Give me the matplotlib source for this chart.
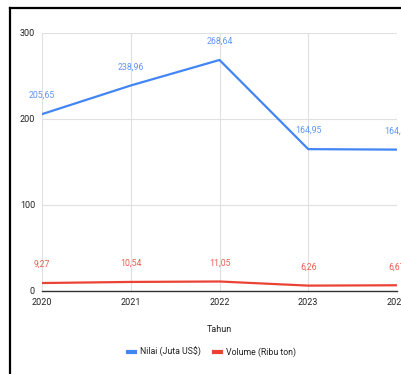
import matplotlib.pyplot as plt
from matplotlib.lines import Line2D

plt.rcParams['font.family'] = ['Roboto', 'DejaVu Sans']

# data
tahun = [2020, 2021, 2022, 2023, 2024]
nilai = [205.65, 238.96, 268.64, 164.95, 164.41]
volume = [9.27, 10.54, 11.05, 6.26, 6.67]
y_ticks = [0, 100, 200, 300]

blue = '#4285F4'
red = '#EA4335'

fig = plt.figure(figsize=(4.02, 3.74), dpi=100)
# plot area runs to the right edge of the (cropped) screenshot
ax = fig.add_axes([42 / 402, 1 - 291 / 374, 355 / 402, 258 / 374])

ax.plot(tahun, nilai, color=blue, lw=1.6, label='Nilai (Juta US$)', zorder=3)
ax.plot(tahun, volume, color=red, lw=1.6, label='Volume (Ribu ton)', zorder=3)

for x, v in zip(tahun, nilai):
    ax.annotate(f'{v:.2f}'.replace('.', ','), (x, v), xytext=(0, 14),
                textcoords='offset pixels', ha='center', va='bottom',
                fontsize=6.3, color=blue, alpha=0.85, annotation_clip=False)
for x, v in zip(tahun, volume):
    ax.annotate(f'{v:.2f}'.replace('.', ','), (x, v), xytext=(0, 14),
                textcoords='offset pixels', ha='center', va='bottom',
                fontsize=6.3, color=red, alpha=0.85, annotation_clip=False)

ax.set_xlim(2020, 2024)
ax.set_ylim(0, 300)
ax.set_xticks(tahun)
ax.set_xticklabels([str(t) for t in tahun])
ax.set_yticks(y_ticks)
ax.grid(True, color='#e0e0e0', lw=0.8)
ax.set_axisbelow(True)
for side in ['left', 'right', 'top']:
    ax.spines[side].set_visible(False)
ax.spines['bottom'].set_color('#333333')
ax.spines['bottom'].set_linewidth(1.0)
ax.tick_params(length=0, labelsize=6.5, colors='#222222')
ax.tick_params(axis='y', pad=5)
ax.tick_params(axis='x', pad=5)
ax.set_xlabel('Tahun', fontsize=6.5, color='#222222', labelpad=13)

fig.legend(loc='center', bbox_to_anchor=(212 / 402, 1 - 352 / 374), ncol=2,
           frameon=False, fontsize=6.3, handlelength=0.8, handletextpad=0.6,
           columnspacing=1.4, labelcolor='#222222')
for lh in fig.legends[0].get_lines():
    lh.set_linewidth(3)

# black frame of the screenshot
fig.add_artist(Line2D([10.5 / 402, 10.5 / 402], [0, 1 - 8 / 374], color='black', lw=1.6,
                      transform=fig.transFigure))
fig.add_artist(Line2D([10.5 / 402, 1], [1 - 8 / 374, 1 - 8 / 374], color='black', lw=1.6,
                      transform=fig.transFigure))

fig.savefig('out.png', dpi=100)
